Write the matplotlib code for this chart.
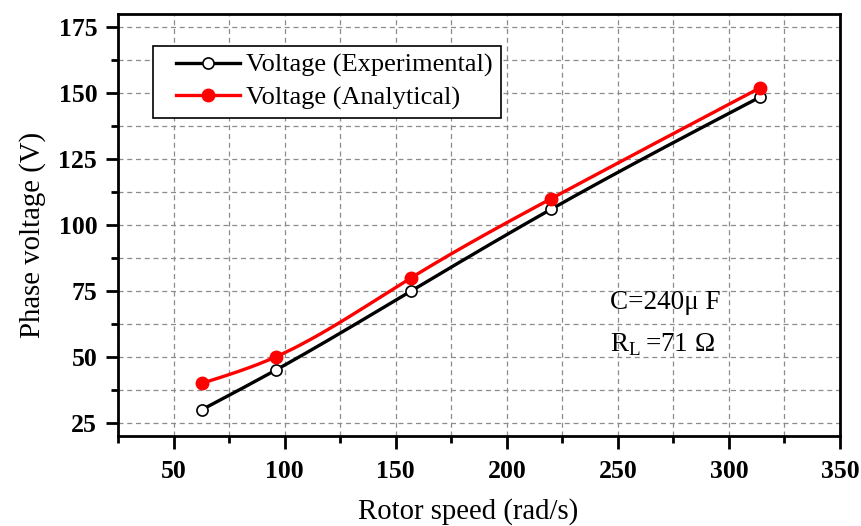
import numpy as np
import matplotlib.pyplot as plt
from matplotlib.ticker import MultipleLocator
from matplotlib.legend_handler import HandlerLine2D

plt.rcParams['font.family'] = ['Liberation Serif', 'DejaVu Serif']
plt.rcParams['mathtext.fontset'] = 'custom'
plt.rcParams['mathtext.rm'] = 'Liberation Serif'

# rotor speed (rad/s) and phase voltage (V)
speed = [62.8, 96, 157, 220, 314]
v_exp = [30, 45, 75, 106, 148.5]
v_ana = [40, 50, 80, 110, 152]


def spline(x, y, n=200):
    # natural cubic spline, only used to draw the connecting curve
    x = np.asarray(x, float)
    y = np.asarray(y, float)
    h = np.diff(x)
    k = len(x)
    A = np.zeros((k, k))
    b = np.zeros(k)
    A[0, 0] = A[-1, -1] = 1
    for i in range(1, k - 1):
        A[i, i - 1] = h[i - 1]
        A[i, i] = 2 * (h[i - 1] + h[i])
        A[i, i + 1] = h[i]
        b[i] = 6 * ((y[i + 1] - y[i]) / h[i] - (y[i] - y[i - 1]) / h[i - 1])
    M = np.linalg.solve(A, b)
    xs = np.linspace(x[0], x[-1], n)
    j = np.clip(np.searchsorted(x, xs) - 1, 0, k - 2)
    t0 = x[j + 1] - xs
    t1 = xs - x[j]
    hj = h[j]
    ys = (M[j] * t0**3 + M[j + 1] * t1**3) / (6 * hj) \
        + (y[j] / hj - M[j] * hj / 6) * t0 + (y[j + 1] / hj - M[j + 1] * hj / 6) * t1
    return xs, ys


fig = plt.figure(figsize=(8.62, 5.26), dpi=100)
ax = fig.add_axes([0.1369, 0.1711, 0.8376, 0.8023])

exp_style = dict(color='black', lw=2.4, marker='o', ms=8, mfc='white', mec='black', mew=1.2)
ana_style = dict(color='red', lw=2.4, marker='o', ms=9, mfc='red', mec='red', mew=1)

xs, ys = spline(speed, v_exp)
ax.plot(xs, ys, color='black', lw=2.4, zorder=3)
ax.plot(speed, v_exp, ls='none', zorder=4, **{k: v for k, v in exp_style.items() if k not in ('color', 'lw')})
xs, ys = spline(speed, v_ana)
ax.plot(xs, ys, color='red', lw=2.4, zorder=3)
ax.plot(speed, v_ana, ls='none', zorder=4, **{k: v for k, v in ana_style.items() if k not in ('color', 'lw')})

# legend proxies
h_exp, = ax.plot([], [], label='Voltage (Experimental)', **exp_style)
h_ana, = ax.plot([], [], label='Voltage (Analytical)', **ana_style)

ax.set_xlim(25, 350)
ax.set_ylim(20, 180)
ax.xaxis.set_major_locator(MultipleLocator(50))
ax.xaxis.set_minor_locator(MultipleLocator(25))
ax.yaxis.set_major_locator(MultipleLocator(25))
ax.yaxis.set_minor_locator(MultipleLocator(12.5))
ax.grid(which='both', color='#8c8c8c', ls=(0, (4, 3)), lw=0.9)
ax.set_axisbelow(True)

for s in ax.spines.values():
    s.set_linewidth(2)
ax.tick_params(which='major', direction='out', length=9, width=2, labelsize=18.5, pad=6)
ax.tick_params(axis='x', which='major', pad=8)
ax.tick_params(which='minor', direction='out', length=5, width=2)
for lab in ax.get_xticklabels() + ax.get_yticklabels():
    lab.set_fontweight('bold')

ax.set_xlabel('Rotor speed (rad/s)', fontsize=20.7, labelpad=11)
ax.set_ylabel('Phase voltage (V)', fontsize=20.7, labelpad=9)
ax.xaxis.label.set_x(0.485)
ax.yaxis.label.set_y(0.4775)

hmap = {h: HandlerLine2D(xpad=0.6) for h in (h_exp, h_ana)}
leg = ax.legend(handles=[h_exp, h_ana], handler_map=hmap,
                loc='upper left', bbox_to_anchor=(0.048, 0.925), fontsize=19,
                frameon=True, fancybox=False, edgecolor='black', framealpha=1,
                handlelength=3.0, handletextpad=0.25, borderpad=0.3,
                labelspacing=0.33, borderaxespad=0)
leg.get_frame().set_linewidth(1.2)

ax.text(0.682, 0.3, 'C=240μ F', transform=ax.transAxes, fontsize=19.5)
ax.text(0.682, 0.2, r'R$_\mathregular{L}$$\,$=71 Ω', transform=ax.transAxes, fontsize=19.5)

fig.savefig('out.png', dpi=100)
